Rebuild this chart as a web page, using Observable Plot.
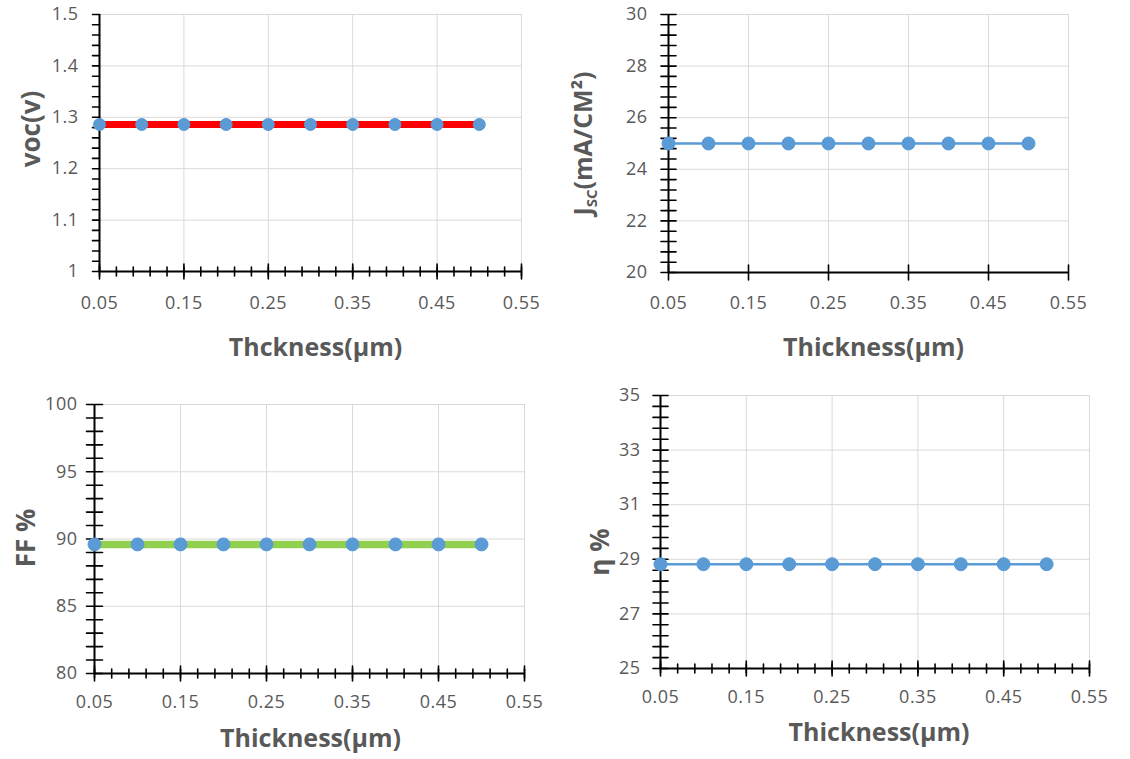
<!DOCTYPE html>
<html><head><meta charset="utf-8">
<script src="https://cdn.jsdelivr.net/npm/d3@7"></script>
<script src="https://cdn.jsdelivr.net/npm/@observablehq/plot@0.6"></script>
<style>
body{margin:0;background:#fff;}
#wrap{position:relative;width:1130px;height:759px;overflow:hidden;background:#fff;}
#wrap > svg{position:absolute;}
g[aria-label$="tick label"] text{letter-spacing:0.5px;}
</style></head><body><div id="wrap"></div>
<script>
// ---- data ----
const thickness = [0.05, 0.10, 0.15, 0.20, 0.25, 0.30, 0.35, 0.40, 0.45, 0.50];
const vocValues = [1.286, 1.286, 1.286, 1.286, 1.286, 1.286, 1.286, 1.286, 1.286, 1.286];
const jscValues = [25.0, 25.0, 25.0, 25.0, 25.0, 25.0, 25.0, 25.0, 25.0, 25.0];
const ffValues  = [89.6, 89.6, 89.6, 89.6, 89.6, 89.6, 89.6, 89.6, 89.6, 89.6];
const etaValues = [28.82, 28.82, 28.82, 28.82, 28.82, 28.82, 28.82, 28.82, 28.82, 28.82];

const xMajorTicks = [0.05, 0.15, 0.25, 0.35, 0.45, 0.55];
const xMinorTicks = [0.05,0.07,0.09,0.11,0.13,0.15,0.17,0.19,0.21,0.23,0.25,0.27,0.29,0.31,0.33,0.35,0.37,0.39,0.41,0.43,0.45,0.47,0.49,0.51,0.53,0.55];
const vocTicks = [1, 1.1, 1.2, 1.3, 1.4, 1.5];
const vocMinor = [1,1.02,1.04,1.06,1.08,1.1,1.12,1.14,1.16,1.18,1.2,1.22,1.24,1.26,1.28,1.3,1.32,1.34,1.36,1.38,1.4,1.42,1.44,1.46,1.48,1.5];
const jscTicks = [20, 22, 24, 26, 28, 30];
const jscMinor = [20,20.4,20.8,21.2,21.6,22,22.4,22.8,23.2,23.6,24,24.4,24.8,25.2,25.6,26,26.4,26.8,27.2,27.6,28,28.4,28.8,29.2,29.6,30];
const ffTicks = [80, 85, 90, 95, 100];
const ffMinor = [80,81,82,83,84,85,86,87,88,89,90,91,92,93,94,95,96,97,98,99,100];
const etaTicks = [25, 27, 29, 31, 33, 35];
const etaMinor = [25,25.4,25.8,26.2,26.6,27,27.4,27.8,28.2,28.6,29,29.4,29.8,30.2,30.6,31,31.4,31.8,32.2,32.6,33,33.4,33.8,34.2,34.6,35];

const xTitles = ["Thckness(µm)", "Thickness(µm)", "Thickness(µm)", "Thickness(µm)"];
const yTitles = ["voc(v)", "JSC(mA/CM²)", "FF %", "η %"];

const RED = "#ff0000", GREEN = "#92d050", BLUE = "#5b9bd5";
const GRID = "#d9d9d9", TXT = "#595959";

const tickLine = {draw(ctx, l) { ctx.moveTo(0, 0); ctx.lineTo(0, -l); }};

function panel(cfg) {
  const data = thickness.map((t, i) => ({t, v: cfg.values[i]}));
  const x0 = 0.05, y0 = cfg.yDomain[0];
  const marks = [
    Plot.gridX(xMajorTicks, {stroke: GRID, strokeOpacity: 1, strokeWidth: 1}),
    Plot.gridY(cfg.yMajor, {stroke: GRID, strokeOpacity: 1, strokeWidth: 1}),
    Plot.ruleX([x0], {stroke: "#000", strokeWidth: 2}),
    Plot.ruleY([y0], {stroke: "#000", strokeWidth: 2}),
  ];
  if (cfg.yOutside) {
    marks.push(Plot.vector(cfg.yMinor, {x: () => x0, y: d => d, length: 7, rotate: -90, anchor: "start", shape: tickLine, stroke: "#000", strokeWidth: 1.6}));
  } else {
    marks.push(Plot.vector(cfg.yMinor, {x: () => x0, y: d => d, length: cfg.yLen, rotate: 90, anchor: "middle", shape: tickLine, stroke: "#000", strokeWidth: 1.6}));
  }
  if (cfg.xMinor) {
    marks.push(Plot.vector(xMinorTicks, {x: d => d, y: () => y0, length: 9, rotate: 0, anchor: "middle", shape: tickLine, stroke: "#000", strokeWidth: 1.6}));
  }
  marks.push(Plot.vector(xMajorTicks, {x: d => d, y: () => y0, length: 15, rotate: 0, anchor: "middle", shape: tickLine, stroke: "#000", strokeWidth: 1.6}));
  marks.push(Plot.axisX({ticks: xMajorTicks, tickSize: 0, tickPadding: cfg.xPad, tickFormat: d3.format(".2f"), fill: TXT, fontSize: 18, label: null}));
  marks.push(Plot.axisY({ticks: cfg.yMajor, tickSize: 0, tickPadding: cfg.yPad, tickFormat: d => String(d), fill: TXT, fontSize: 18, label: null}));
  marks.push(Plot.line(data, {x: "t", y: "v", stroke: cfg.lineColor, strokeWidth: cfg.lineWidth}));
  marks.push(Plot.dot(data, {x: "t", y: "v", r: cfg.r, fill: BLUE, stroke: BLUE, strokeWidth: 1}));
  marks.push(Plot.text([cfg.yTitle], {text: d => d, frameAnchor: "left", textAnchor: "middle", rotate: -90, dx: cfg.yDx, dy: cfg.yDy, fontSize: cfg.yFont || 26, fontWeight: "bold", fill: TXT}));
  marks.push(Plot.text([cfg.xTitle], {text: d => d, frameAnchor: "bottom", textAnchor: "middle", dx: cfg.xDx, dy: cfg.xDy, fontSize: 25, fontWeight: "bold", fill: TXT, lineAnchor: "middle"}));

  const svg = Plot.plot({
    width: cfg.width, height: cfg.height,
    marginLeft: cfg.mL, marginRight: cfg.mR, marginTop: cfg.mT, marginBottom: cfg.mB,
    x: {domain: [0.05, 0.55], axis: null},
    y: {domain: cfg.yDomain, axis: null},
    style: {fontFamily: "'Open Sans', sans-serif", background: "transparent", overflow: "visible"},
    marks
  });
  svg.style.left = cfg.left + "px";
  svg.style.top = cfg.top + "px";
  return svg;
}

const wrap = document.getElementById("wrap");
const p1 = panel({left: 0, top: 0, width: 565, height: 380, mL: 99, mR: 44, mT: 14, mB: 109,
  yDomain: [1, 1.5], yMajor: vocTicks, yMinor: vocMinor, yOutside: true, xMinor: true,
  values: vocValues, lineColor: RED, lineWidth: 7, r: 6,
  yTitle: yTitles[0], xTitle: xTitles[0], yDx: -68, yDy: -14, xDx: 5, xDy: 76, yPad: 21, xPad: 25});
const p2 = panel({left: 565, top: 0, width: 565, height: 380, mL: 103, mR: 62, mT: 14, mB: 108,
  yDomain: [20, 30], yMajor: jscTicks, yMinor: jscMinor, yOutside: false, yLen: 15, xMinor: false,
  values: jscValues, lineColor: BLUE, lineWidth: 2.5, r: 6.5, yFont: 25,
  yTitle: yTitles[1], xTitle: xTitles[1], yDx: -85, yDy: 0, xDx: 5, xDy: 75, yPad: 21, xPad: 24});
const p3 = panel({left: 0, top: 380, width: 565, height: 379, mL: 94, mR: 41, mT: 24, mB: 86,
  yDomain: [80, 100], yMajor: ffTicks, yMinor: ffMinor, yOutside: false, yLen: 16, xMinor: true,
  values: ffValues, lineColor: GREEN, lineWidth: 7.5, r: 6.5,
  yTitle: yTitles[2], xTitle: xTitles[2], yDx: -68, yDy: -1, xDx: 1, xDy: 65, yPad: 17, xPad: 22});
const p4 = panel({left: 565, top: 380, width: 565, height: 379, mL: 95, mR: 41, mT: 15, mB: 91,
  yDomain: [25, 35], yMajor: etaTicks, yMinor: etaMinor, yOutside: false, yLen: 15, xMinor: true,
  values: etaValues, lineColor: BLUE, lineWidth: 2.5, r: 6.5,
  yTitle: yTitles[3], xTitle: xTitles[3], yDx: -60, yDy: 20, xDx: 4, xDy: 64, yPad: 20, xPad: 22});
[p1, p2, p3, p4].forEach(s => wrap.appendChild(s));

p2.querySelectorAll("text").forEach(t => {
  if (t.textContent === yTitles[1]) {
    t.textContent = "";
    const ns = "http://www.w3.org/2000/svg";
    const a = document.createElementNS(ns, "tspan"); a.textContent = "J";
    const b = document.createElementNS(ns, "tspan"); b.textContent = "SC"; b.setAttribute("font-size", "15"); b.setAttribute("dy", "5");
    const c = document.createElementNS(ns, "tspan"); c.textContent = "(mA/CM²)"; c.setAttribute("dy", "-5");
    t.append(a, b, c);
  }
});
</script></body></html>
